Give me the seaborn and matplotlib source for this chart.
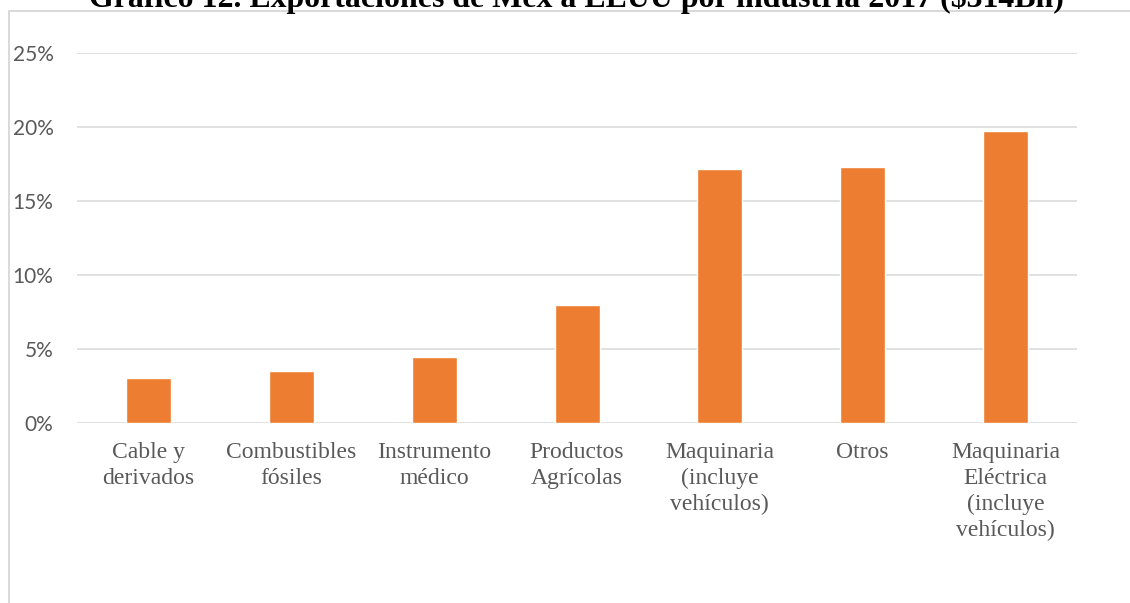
import matplotlib
matplotlib.use("Agg")
import matplotlib.pyplot as plt
import seaborn as sns
import pandas as pd
from matplotlib.lines import Line2D
from matplotlib.ticker import FuncFormatter

categories = [
    "Cable y\nderivados",
    "Combustibles\nfósiles",
    "Instrumento\nmédico",
    "Productos\nAgrícolas",
    "Maquinaria\n(incluye\nvehículos)",
    "Otros",
    "Maquinaria\nEléctrica\n(incluye\nvehículos)",
]
shares = [0.0307, 0.0349, 0.0444, 0.0795, 0.1719, 0.1728, 0.1971]
yticks = [0.0, 0.05, 0.10, 0.15, 0.20, 0.25]
title = "Gráfico 12. Exportaciones de Méx a EEUU por industria 2017 ($314Bn)"

df = pd.DataFrame({"cat": categories, "val": shares})

sns.set_theme(style="white")
W, H = 1130, 603
fig = plt.figure(figsize=(W / 100, H / 100), dpi=100)
fig.patch.set_facecolor("white")

left, right = 77 / W, 1077 / W
bottom, top = (H - 423) / H, (H - 53) / H
ax = fig.add_axes([left, bottom, right - left, top - bottom])

sns.barplot(data=df, x="cat", y="val", color="#ED7D31", width=0.315,
            saturation=1, ax=ax, zorder=3)

ax.set_ylim(0, 0.25)
ax.set_xlim(-0.5, len(categories) - 0.5)
ax.set_yticks(yticks)
ax.yaxis.set_major_formatter(FuncFormatter(lambda v, p: f"{v*100:.0f}%"))
ax.grid(axis="y", color="#d9d9d9", linewidth=1.1, zorder=0)
ax.grid(axis="x", visible=False)
for s in ax.spines.values():
    s.set_visible(False)
ax.set_xlabel("")
ax.set_ylabel("")
ax.tick_params(axis="y", length=0, pad=17, labelsize=15, labelcolor="#595959")
ax.tick_params(axis="x", length=0, pad=14, labelsize=17, labelcolor="#595959")
for lab in ax.get_yticklabels():
    lab.set_fontfamily("Lato")
for lab in ax.get_xticklabels():
    lab.set_fontfamily("Liberation Serif")
    lab.set_linespacing(1.29)

# chart area border
fig.add_artist(Line2D([9 / W, 9 / W], [0, 1 - 10.5 / H], transform=fig.transFigure,
                      color="#d9d9d9", linewidth=1.4))
fig.add_artist(Line2D([9 / W, 1], [1 - 10.5 / H, 1 - 10.5 / H], transform=fig.transFigure,
                      color="#d9d9d9", linewidth=1.4))

t = fig.text(576 / W, 1 - 7 / H, title, ha="center", va="baseline",
             fontfamily="Liberation Serif", fontweight="bold", fontsize=20, color="black")
fig.canvas.draw()
bb = t.get_window_extent()
t.set_fontsize(20 * 972 / bb.width)

fig.savefig("out.png", dpi=100, facecolor="white")
